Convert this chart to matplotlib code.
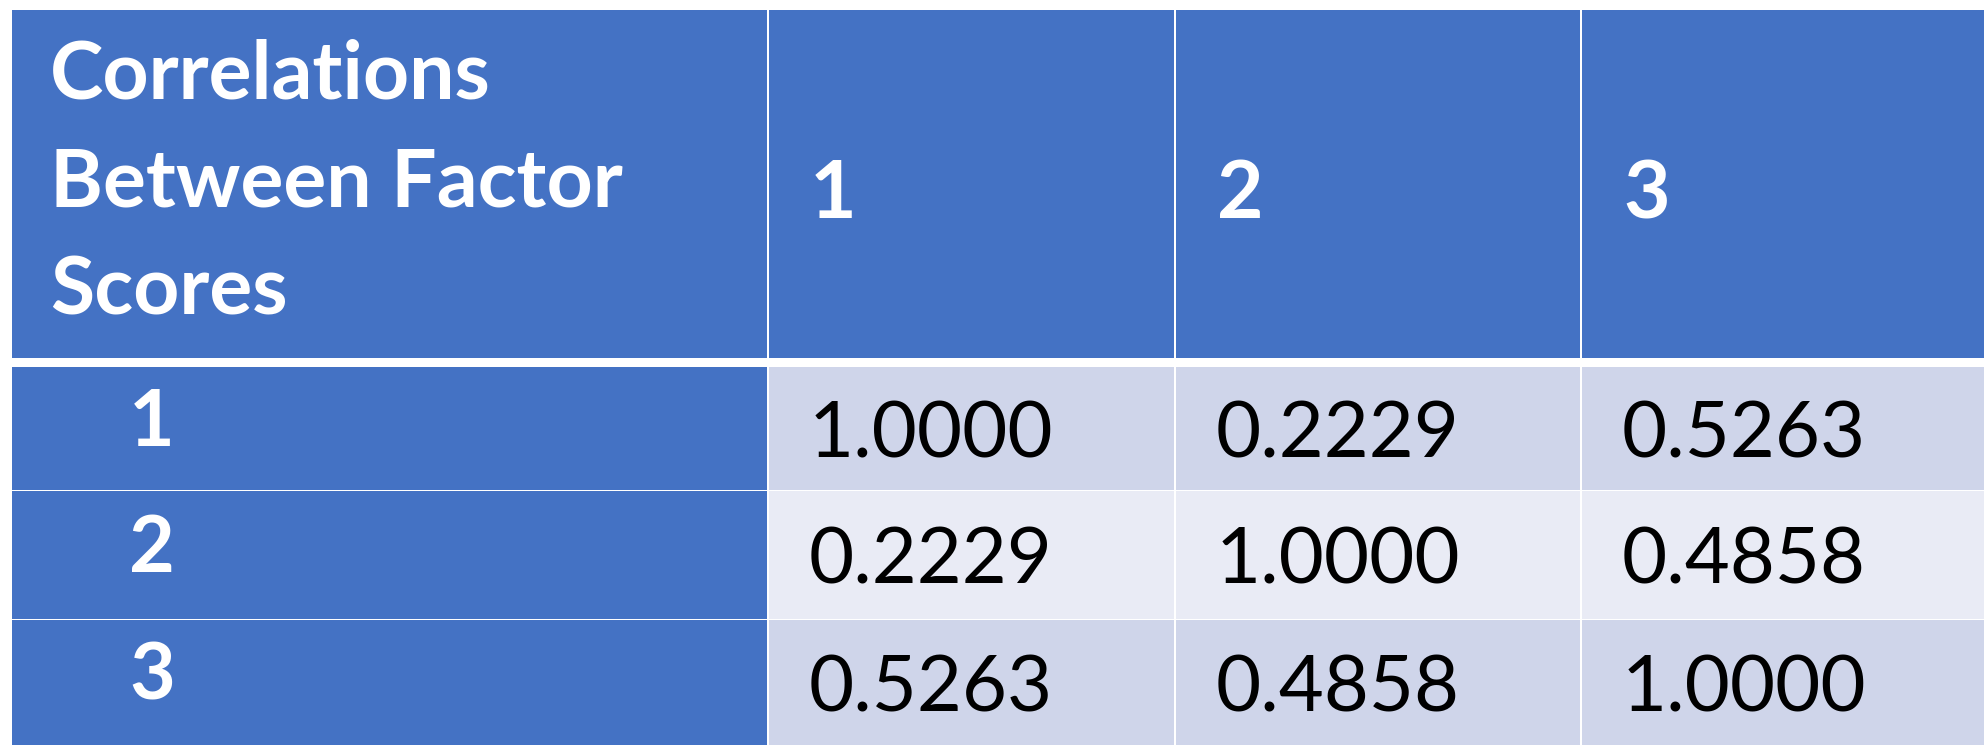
import matplotlib.pyplot as plt
from matplotlib.patches import Rectangle

# table content
corner_title = "Correlations\nBetween Factor\nScores"
col_headers = ["1", "2", "3"]
row_labels = ["1", "2", "3"]
corr_values = [
    [1.0000, 0.2229, 0.5263],
    [0.2229, 1.0000, 0.4858],
    [0.5263, 0.4858, 1.0000],
]

HEADER_BLUE = "#4472C4"
ROW_COLORS = ("#CFD5EA", "#E9EBF5")
FONT = ["Lato", "DejaVu Sans"]

# layout in pixels (figure is 1984 x 745 at dpi 100)
W, H = 1984, 745
col_edges = [11, 768, 1175, 1581, W + 5]
header_top, header_bottom = 10, 359
row_edges = [367, 491, 620, H + 5]
gap = 1.0

fig = plt.figure(figsize=(W / 100, H / 100), dpi=100)
ax = fig.add_axes([0, 0, 1, 1])
ax.set_xlim(0, W)
ax.set_ylim(H, 0)
ax.axis("off")


def cell(x0, x1, y0, y1, color):
    ax.add_patch(Rectangle((x0 + gap, y0), x1 - x0 - 2 * gap, y1 - y0 - gap,
                           facecolor=color, edgecolor="none"))


# header row
for c in range(4):
    cell(col_edges[c], col_edges[c + 1], header_top, header_bottom, HEADER_BLUE)
ax.text(col_edges[0] + 39, (header_top + header_bottom) / 2 - 1, corner_title,
        family=FONT, fontweight="bold", fontsize=58, color="white",
        ha="left", va="center", linespacing=1.57)
for c, label in enumerate(col_headers):
    ax.text(col_edges[c + 1] + 42, (header_top + header_bottom) / 2 + 11, label,
            family=FONT, fontweight="bold", fontsize=58, color="white",
            ha="left", va="center")

# body rows
for r, label in enumerate(row_labels):
    y0, y1 = row_edges[r], row_edges[r + 1]
    yc = (y0 + min(y1, H)) / 2
    cell(col_edges[0], col_edges[1], y0, y1, HEADER_BLUE)
    ax.text(col_edges[0] + 118, yc - 5, label, family=FONT, fontweight="bold",
            fontsize=57, color="white", ha="left", va="center")
    for c in range(3):
        cell(col_edges[c + 1], col_edges[c + 2], y0, y1, ROW_COLORS[r % 2])
        ax.text(col_edges[c + 1] + 41, yc + 7, f"{corr_values[r][c]:.4f}",
                family=FONT, fontsize=56, color="black", ha="left", va="center")

fig.savefig("out.png", dpi=100, facecolor="white")
